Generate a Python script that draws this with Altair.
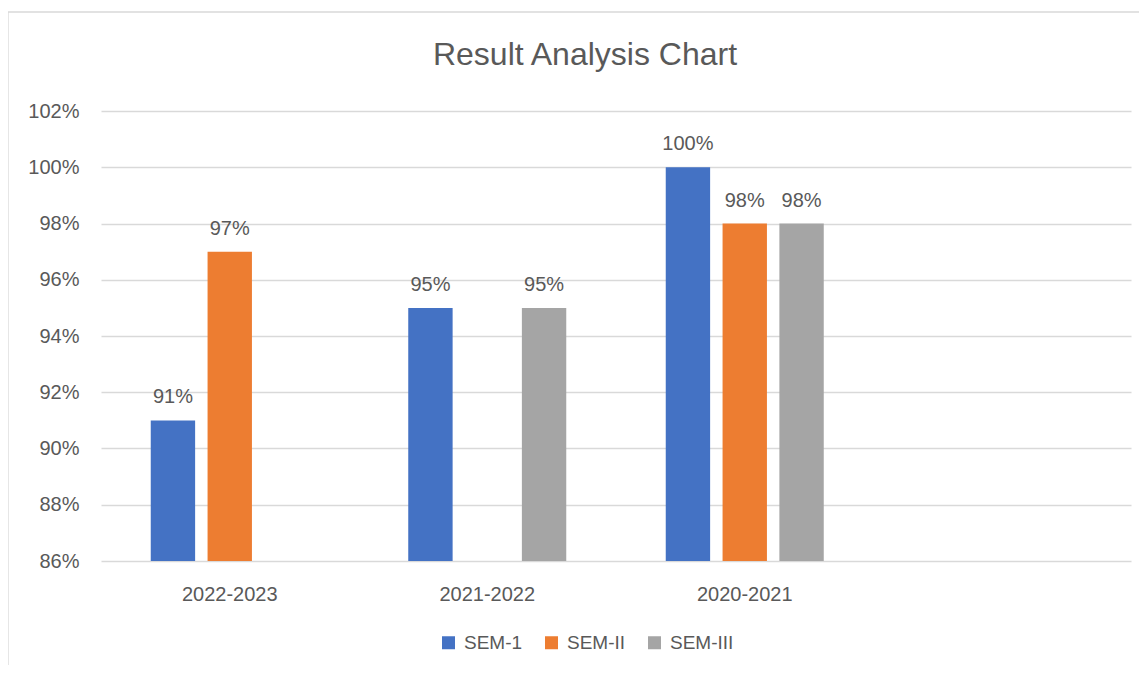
import altair as alt
import pandas as pd

# ---- data ----
years = ["2022-2023", "2021-2022", "2020-2021", " "]
sems = ["SEM-1", "SEM-II", "SEM-III"]
sem1 = [0.91, 0.95, 1.00]
sem2 = [0.97, None, 0.98]
sem3 = [None, 0.95, 0.98]
colors = ["#4472C4", "#ED7D31", "#A5A5A5"]
y_ticks = [0.86, 0.88, 0.90, 0.92, 0.94, 0.96, 0.98, 1.00, 1.02]
axis_min = 0.86
axis_max = 1.02

rows = []
for sem, vals in zip(sems, [sem1, sem2, sem3]):
    for yr, v in zip(years[:3], vals):
        if v is not None:
            rows.append({"year": yr, "sem": sem, "value": v})
df = pd.DataFrame(rows)

TEXT = "#595959"
FONT = "Liberation Sans"

x_enc = alt.X(
    "year:N",
    sort=years,
    scale=alt.Scale(domain=years, paddingInner=0.3864, paddingOuter=0.1932),
    axis=alt.Axis(
        title=None,
        labelAngle=0,
        labelFontSize=20,
        labelColor=TEXT,
        labelFont=FONT,
        labelBaseline="alphabetic",
        labelPadding=39,
        ticks=False,
        tickSize=0,
        domain=False,
        grid=False,
    ),
)
xo_enc = alt.XOffset(
    "sem:N",
    sort=sems,
    scale=alt.Scale(domain=sems, paddingInner=0.219, paddingOuter=0),
)
y_enc = alt.Y(
    "value:Q",
    scale=alt.Scale(domain=[axis_min, axis_max], zero=False, nice=False),
    axis=alt.Axis(
        title=None,
        values=y_ticks,
        format=".0%",
        labelFontSize=20,
        labelColor=TEXT,
        labelFont=FONT,
        labelPadding=22,
        ticks=False,
        tickSize=0,
        domain=False,
        grid=True,
        gridColor="#D9D9D9",
        gridWidth=1.3,
    ),
)

bars = alt.Chart(df).mark_bar().encode(
    x=x_enc,
    xOffset=xo_enc,
    y=y_enc,
    y2=alt.datum(axis_min),
    color=alt.Color(
        "sem:N",
        sort=sems,
        scale=alt.Scale(domain=sems, range=colors),
        legend=alt.Legend(
            title=None,
            orient="none",
            direction="horizontal",
            legendX=338,
            legendY=522,
            symbolType="square",
            symbolSize=169,
            symbolStrokeWidth=0,
            labelFontSize=19,
            labelColor=TEXT,
            labelFont=FONT,
            labelOffset=6,
            columnPadding=19,
        ),
    ),
)

labels = alt.Chart(df).mark_text(
    baseline="alphabetic", dy=-17, fontSize=20, color=TEXT, font=FONT
).encode(
    x=x_enc,
    xOffset=xo_enc,
    y=y_enc,
    text=alt.Text("value:Q", format=".0%"),
)

frame = alt.Chart(pd.DataFrame({"k": [0]})).mark_rect(
    fill="transparent", stroke="#D9D9D9", strokeWidth=1.3
).encode(
    x=alt.value(-93), x2=alt.value(1200), y=alt.value(-99), y2=alt.value(700)
)

chart = (
    alt.layer(frame, bars, labels)
    .properties(
        width=1030,
        height=450,
        autosize=alt.AutoSizeParams(type="none"),
        padding={"left": 93, "top": 103, "right": 8, "bottom": 104},
        view=alt.ViewBackground(strokeWidth=0),
        title=alt.TitleParams(
            "Result Analysis Chart",
            fontSize=32,
            fontWeight="normal",
            color=TEXT,
            font=FONT,
            anchor="middle",
            frame="group",
            dx=-31,
            dy=86,
            offset=0,
            baseline="alphabetic",
        ),
    )
    .configure_view(strokeWidth=0, stroke="transparent")
    .configure(background="white")
)

chart.save("out.html", embed_options={"renderer": "svg", "actions": False})
